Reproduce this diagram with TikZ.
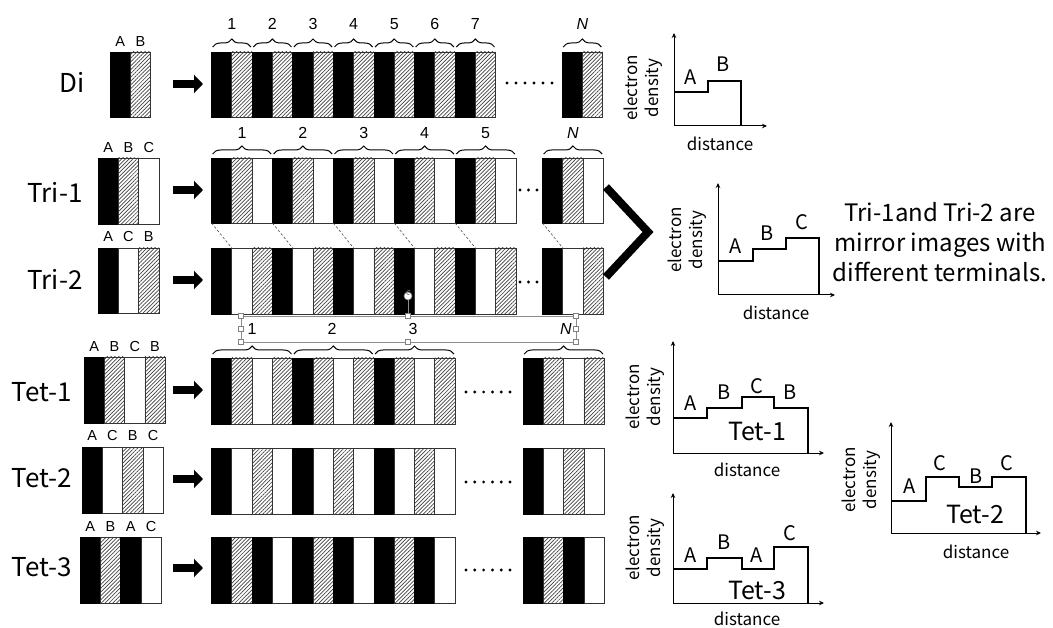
\documentclass[tikz,border=0pt]{standalone}
\usepackage{fontspec}
\setmainfont{Noto Sans CJK JP}
\newfontfamily\numfont{Liberation Sans}
\usetikzlibrary{patterns.meta,decorations.pathreplacing,arrows.meta,calc}

\newcommand\chainrow[5]{%
  \foreach \t [count=\i from 0] in {#5}{%
    \node[stripe\t, minimum height=#4pt] (#1-\i) at ({#2+\i*20.3},#3) {};
  }%
}

\tikzset{
  stripebase/.style={line width=0.8pt, minimum width=20.3pt, inner sep=0pt, outer sep=0pt, anchor=north west},
  stripeK/.style={stripebase, draw=black, fill=black},
  stripeH/.style={stripebase, draw=black!80, pattern={Lines[angle=45,distance=2.7pt,line width=0.7pt]}, pattern color=black!75},
  stripeW/.style={stripebase, draw=black!80, fill=white},
  rowlab/.style={font=\fontsize{26}{28}\selectfont, inner sep=0pt},
  mlab/.style={font=\numfont\fontsize{14.5}{16}\selectfont, inner sep=0pt},
  numlab/.style={font=\numfont\fontsize{16}{18}\selectfont, inner sep=0pt},
  bracedec/.style={decorate, decoration={brace, amplitude=8pt}, line width=1pt},
  bigarrow/.style={line width=8pt, -{Triangle[length=9pt 0 0, width=18pt 0 0]}},
  dashline/.style={dashed, line width=0.6pt, black!70, dash pattern=on 2.5pt off 2pt},
  axline/.style={line width=1pt, -{Stealth[length=5pt 0 0, width=4.5pt 0 0]}},
  dens/.style={line width=1.3pt, line join=miter},
  plab/.style={font=\fontsize{20}{22}\selectfont, inner sep=0pt},
  biglab/.style={font=\fontsize{25}{27}\selectfont, inner sep=0pt},
  ylab/.style={font=\fontsize{17}{21}\selectfont, rotate=90, align=center, inner sep=0pt},
  xlab/.style={font=\fontsize{17}{19}\selectfont, inner sep=0pt},
  selbox/.style={draw=black!45, line width=0.7pt},
  handle/.style={draw=black!50, fill=white, line width=0.6pt},
}

\begin{document}
\begin{tikzpicture}[x=1pt,y=-1pt]
\useasboundingbox (0,0) rectangle (1053,628);

% ---------- row labels ----------
\node[rowlab] (lDi) at (72,82) {Di};
\node[rowlab] (lTri1) at (55,192) {Tri-1};
\node[rowlab] (lTri2) at (55,279) {Tri-2};
\node[rowlab] (lTet1) at (42,392) {Tet-1};
\node[rowlab] (lTet2) at (42,478) {Tet-2};
\node[rowlab] (lTet3) at (42,567) {Tet-3};

% ---------- monomers ----------
\chainrow{mDi}{110}{52}{65}{K,H}
\chainrow{mTri1}{98}{158}{66}{K,H,W}
\chainrow{mTri2}{98}{248}{65}{K,W,H}
\chainrow{mTet1}{84}{357}{66}{K,H,W,H}
\chainrow{mTet2}{82}{447}{66}{K,W,H,W}
\chainrow{mTet3}{80}{537}{66}{K,H,K,W}

\foreach \l [count=\i from 0] in {A,B}
  \node[mlab] (mDi-l\i) at ($(mDi-\i.north)+(0,-10)$) {\l};
\foreach \l [count=\i from 0] in {A,B,C}
  \node[mlab] (mTri1-l\i) at ($(mTri1-\i.north)+(0,-10)$) {\l};
\foreach \l [count=\i from 0] in {A,C,B}
  \node[mlab] (mTri2-l\i) at ($(mTri2-\i.north)+(0,-11)$) {\l};
\foreach \l [count=\i from 0] in {A,B,C,B}
  \node[mlab] (mTet1-l\i) at ($(mTet1-\i.north)+(0,-10)$) {\l};
\foreach \l [count=\i from 0] in {A,C,B,C}
  \node[mlab] (mTet2-l\i) at ($(mTet2-\i.north)+(0,-11)$) {\l};
\foreach \l [count=\i from 0] in {A,B,A,C}
  \node[mlab] (mTet3-l\i) at ($(mTet3-\i.north)+(0,-10)$) {\l};

% ---------- arrows ----------
\foreach \n/\y in {Di/84,Tri1/190,Tri2/280,Tet1/390,Tet2/479,Tet3/568}{
  \coordinate (a\n-s) at (173,\y);
  \coordinate (a\n-e) at (203,\y);
  \draw[bigarrow] (a\n-s) -- (a\n-e);
}

% ---------- chains ----------
\chainrow{cDi}{211.5}{52}{65}{K,H,K,H,K,H,K,H,K,H,K,H,K,H}
\chainrow{nDi}{562}{52}{65}{K,H}
\chainrow{cTri1}{211.5}{158}{65}{K,H,W,K,H,W,K,H,W,K,H,W,K,H,W}
\chainrow{nTri1}{542.5}{158}{65}{K,H,W}
\chainrow{cTri2}{211.5}{248}{66}{K,W,H,K,W,H,K,W,H,K,W,H,K,W,H}
\chainrow{nTri2}{542.5}{248}{66}{K,W,H}
\chainrow{cTet1}{211.5}{358}{66}{K,H,W,H,K,H,W,H,K,H,W,H}
\chainrow{nTet1}{523}{358}{66}{K,H,W,H}
\chainrow{cTet2}{211.5}{448}{66}{K,W,H,W,K,W,H,W,K,W,H,W}
\chainrow{nTet2}{523}{448}{66}{K,W,H,W}
\chainrow{cTet3}{211.5}{537}{66}{K,H,K,W,K,H,K,W,K,H,K,W}
\chainrow{nTet3}{523}{537}{66}{K,H,K,W}

% ---------- dots ----------
\foreach \k in {0,...,5} \fill (507+\k*9,83) circle (1.6);
\foreach \k in {0,1,2} { \fill (520+\k*8.5,190) circle (1.6); \fill (520+\k*8.5,282) circle (1.6); }
\foreach \yy in {392,482,570} \foreach \k in {0,...,5} \fill (466+\k*8.8,\yy) circle (1.6);

% ---------- braces Di ----------
\foreach \u in {1,...,7}{
  \pgfmathsetmacro\xa{211.5+(\u-1)*40.6+1.2}
  \pgfmathsetmacro\xb{211.5+\u*40.6-1.2}
  \draw[bracedec] (\xa,47) -- (\xb,47);
  \node[numlab] (bDi\u) at ({(\xa+\xb)/2},24) {\u};
}
\draw[bracedec] (563.2,47) -- (601.4,47);
\node[numlab] (bDiN) at (582.3,24) {\textit{N}};

% ---------- braces Tri-1 ----------
\foreach \u in {1,...,5}{
  \pgfmathsetmacro\xa{211.5+(\u-1)*60.9+1.2}
  \pgfmathsetmacro\xb{211.5+\u*60.9-1.2}
  \draw[bracedec] (\xa,154) -- (\xb,154);
  \node[numlab] (bTri\u) at ({(\xa+\xb)/2},133) {\u};
}
\draw[bracedec] (543.7,154) -- (602.2,154);
\node[numlab] (bTriN) at (573,133) {\textit{N}};

% ---------- dashed connectors Tri-1 / Tri-2 ----------
\foreach \u in {0,...,4}{
  \pgfmathtruncatemacro\a{3*\u}
  \draw[dashline] (cTri1-\a.south west) -- (cTri2-\a.north east);
}
\draw[dashline] (nTri1-0.south west) -- (nTri2-0.north east);

% ---------- braces Tet-1 ----------
\foreach \u in {1,2,3}{
  \pgfmathsetmacro\xa{211.5+(\u-1)*81.2+1.2}
  \pgfmathsetmacro\xb{211.5+\u*81.2-1.2}
  \draw[bracedec] (\xa,354) -- (\xb,354);
}
\draw[bracedec] (524.2,354) -- (603,354);

% selection box with numbers
\draw[selbox] (241,316) rectangle (576,342);
\coordinate (rotA) at (408,316);
\coordinate (rotB) at (408,300);
\draw[selbox] (rotA) -- (rotB);
\draw[handle] (408,296) circle (4);
\draw[black!55, line width=0.6pt, -{Stealth[length=1.5pt 0 0]}] (409.5,294.3) arc (60:330:2);
\foreach \p in {(241,316),(241,329),(241,342),(408,316),(408,342),(576,316),(576,329),(576,342)}
  \draw[handle] \p ++(-2.5,-2.5) rectangle ++(5,5);
\node[numlab] (bTet1) at (252,329) {1};
\node[numlab] (bTet2) at (332,329) {2};
\node[numlab] (bTet3) at (413,329) {3};
\node[numlab] (bTetN) at (566,329) {\textit{N}};

% ---------- chevron ----------
\coordinate (chA) at (606,187);
\coordinate (chB) at (648,232);
\coordinate (chC) at (606,277);
\draw[line width=8pt, line join=miter, miter limit=10] (chA) -- (chB) -- (chC);

% ---------- plot Di ----------
\draw[axline] (674,126) -- (674,33);
\draw[axline] (674,126) -- (767,126);
\draw[dens] (674,92) -- (708,92) -- (708,81) -- (741,81) -- (741,126);
\node[plab] (pDiA) at (691,77) {A};
\node[plab] (pDiB) at (723,64) {B};
\node[ylab] (pDiY) at (643,88) {electron\\density};
\node[xlab] (pDiX) at (720,144) {distance};

% ---------- plot Tri ----------
\draw[axline] (718,295) -- (718,183);
\draw[axline] (718,295) -- (835,295);
\draw[dens] (718,261) -- (753,261) -- (753,249) -- (786,249) -- (786,238) -- (819,238) -- (819,295);
\node[plab] (pTrA) at (736,246) {A};
\node[plab] (pTrB) at (767,233) {B};
\node[plab] (pTrC) at (802,222) {C};
\node[ylab] (pTrY) at (687,240) {electron\\density};
\node[xlab] (pTrX) at (776,313) {distance};

\node[align=center, font=\fontsize{24}{30}\selectfont, inner sep=0pt] (note) at (940,242)
  {Tri-1and Tri-2 are\\mirror images with\\different terminals.};

% ---------- plot Tet-1 ----------
\draw[axline] (673,453) -- (673,341);
\draw[axline] (673,453) -- (824,453);
\draw[dens] (673,418) -- (707,418) -- (707,408) -- (742,408) -- (742,397) -- (774,397) -- (774,408) -- (808,408) -- (808,453);
\node[plab] (p1A) at (691,403) {A};
\node[plab] (p1B) at (724,392) {B};
\node[plab] (p1C) at (757,386) {C};
\node[plab] (p1D) at (790,392) {B};
\node[biglab] (p1T) at (757,432) {Tet-1};
\node[ylab] (p1Y) at (645,397) {electron\\density};
\node[xlab] (p1X) at (747,470) {distance};

% ---------- plot Tet-3 ----------
\draw[axline] (673,603) -- (673,493);
\draw[axline] (673,603) -- (824,603);
\draw[dens] (673,569) -- (707,569) -- (707,558) -- (742,558) -- (742,569) -- (774,569) -- (774,547) -- (808,547) -- (808,603);
\node[plab] (p3A) at (691,555) {A};
\node[plab] (p3B) at (724,542) {B};
\node[plab] (p3C) at (757,555) {A};
\node[plab] (p3D) at (790,533) {C};
\node[biglab] (p3T) at (757,590) {Tet-3};
\node[ylab] (p3Y) at (645,548) {electron\\density};
\node[xlab] (p3X) at (747,619) {distance};

% ---------- plot Tet-2 ----------
\draw[axline] (891,533) -- (891,422);
\draw[axline] (891,533) -- (1041,533);
\draw[dens] (891,501) -- (926,501) -- (926,477) -- (959,477) -- (959,487) -- (992,487) -- (992,477) -- (1026,477) -- (1026,533);
\node[plab] (p2A) at (910,486) {A};
\node[plab] (p2B) at (940,463) {C};
\node[plab] (p2C) at (976,476) {B};
\node[plab] (p2D) at (1007,463) {C};
\node[biglab] (p2T) at (975,514) {Tet-2};
\node[ylab] (p2Y) at (861,480) {electron\\density};
\node[xlab] (p2X) at (976,552) {distance};

\end{tikzpicture}
\end{document}
